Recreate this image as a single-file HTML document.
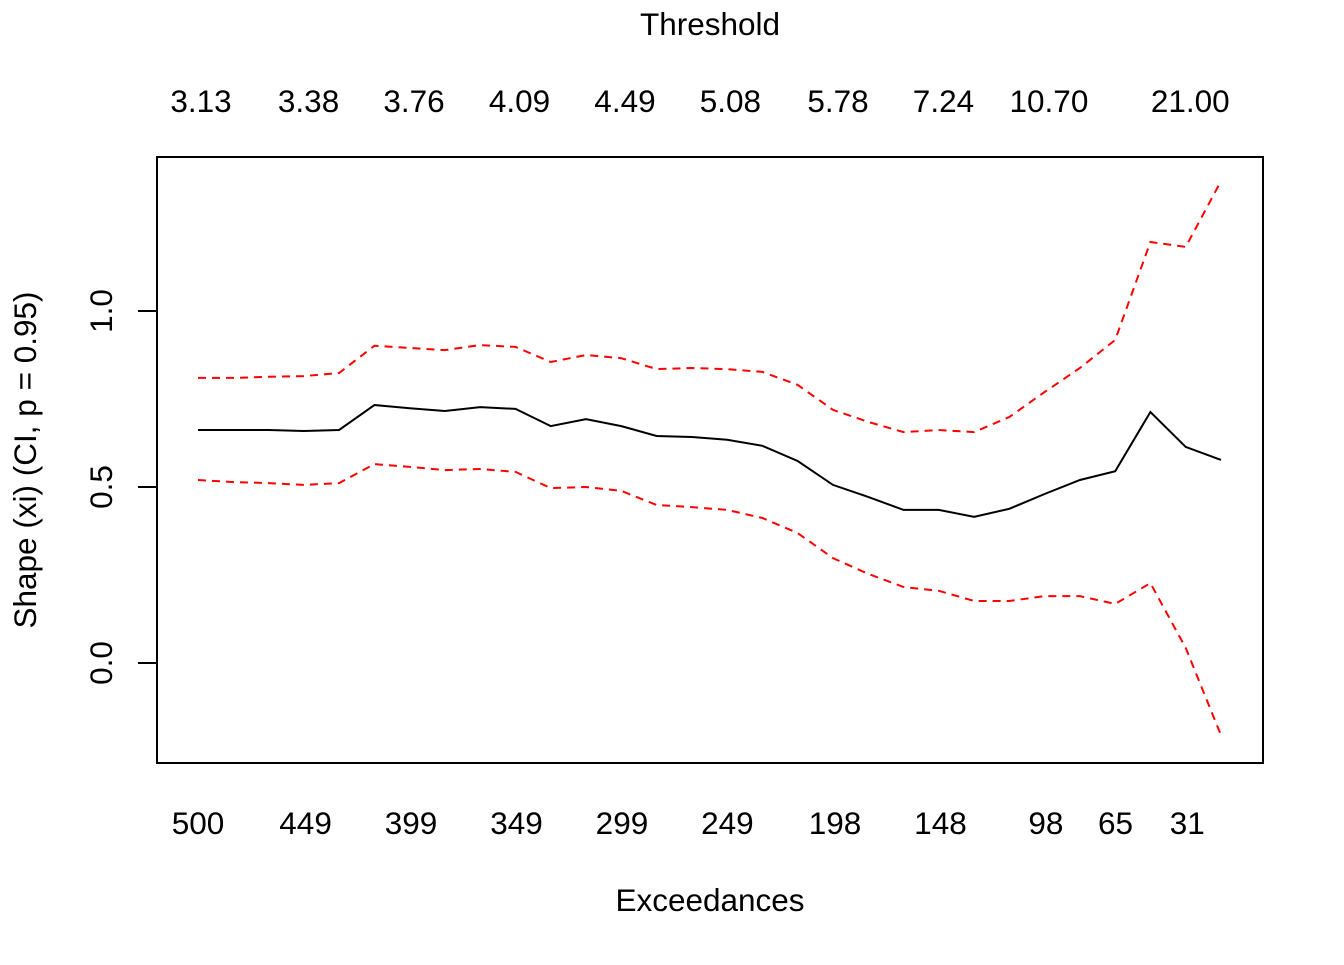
<!DOCTYPE html>
<html><head><meta charset="utf-8"><style>
html,body{margin:0;padding:0;background:#fff;}
svg text{font-family:"Liberation Sans",Arial,sans-serif;fill:#000;}
</style></head><body>
<svg id="chart" width="1344" height="960" viewBox="0 0 1344 960" xmlns="http://www.w3.org/2000/svg">
<rect x="0" y="0" width="1344" height="960" fill="#fff"/>
<g id="plot"></g>
</svg>
<script>
const exceedTicks = [500,449,399,349,299,249,198,148,98,65,31];
const thresholdLabels = ["3.13","3.38","3.76","4.09","4.49","5.08","5.78","7.24","10.70","21.00"];
const thresholdAt = [500,449,399,349,299,249,198,148,98,31];
const yTicks = [0.0,0.5,1.0];
const yTickLabels = ["0.0","0.5","1.0"];
const kMax = 500, kMin = 15, nPts = 30;
const shape = [0.662,0.662,0.662,0.659,0.662,0.733,0.724,0.716,0.727,0.722,0.673,0.693,0.673,0.645,0.642,0.634,0.617,0.574,0.506,0.472,0.435,0.435,0.415,0.438,0.480,0.520,0.545,0.713,0.614,0.577];
const upper = [0.810,0.810,0.813,0.815,0.824,0.901,0.895,0.889,0.903,0.898,0.855,0.875,0.866,0.835,0.838,0.835,0.827,0.790,0.719,0.685,0.656,0.662,0.656,0.699,0.770,0.838,0.918,1.196,1.182,1.369];
const lower = [0.520,0.514,0.511,0.506,0.511,0.565,0.557,0.548,0.551,0.543,0.497,0.500,0.489,0.449,0.443,0.435,0.412,0.369,0.298,0.253,0.216,0.205,0.176,0.176,0.190,0.190,0.168,0.227,0.043,-0.205];

const NS="http://www.w3.org/2000/svg";
const g=document.getElementById('plot');
const L=157,R=1263,T=157,B=763;
const FS=31.5;
function xScale(k){return 198+(kMax-k)*(1221-198)/(kMax-kMin);}
function yScale(v){return 663-v*352;}
function mk(tag,attrs){const e=document.createElementNS(NS,tag);for(const a in attrs)e.setAttribute(a,attrs[a]);g.appendChild(e);return e;}
function ptsK(i){return kMax-i*(kMax-kMin)/(nPts-1);}

const box=mk('rect',{x:L,y:T,width:R-L,height:B-T,fill:'none',stroke:'#000','stroke-width':2});



function series(arr,color,dash,name){
  const d=arr.map((v,i)=>(i?'L':'M')+xScale(ptsK(i)).toFixed(1)+','+yScale(v).toFixed(1)).join(' ');
  const p=mk('path',{d:d,fill:'none',stroke:color,'stroke-width':2});
  if(dash)p.setAttribute('stroke-dasharray',dash);
  
  
}
series(upper,'#ff0000','8,6','upper-ci-line');
series(lower,'#ff0000','8,6','lower-ci-line');
series(shape,'#000','','shape-estimate-line');

yTicks.forEach((v,i)=>{
  const y=yScale(v);
  const t=mk('line',{x1:138,x2:L,y1:y,y2:y,stroke:'#000','stroke-width':2});
  
  
  const tx=mk('text',{x:0,y:0,'font-size':FS,'text-anchor':'middle',transform:`translate(112,${y}) rotate(-90)`});
  tx.textContent=yTickLabels[i];
  
  
});
exceedTicks.forEach(k=>{
  const tx=mk('text',{x:xScale(k),y:834,'font-size':FS,'text-anchor':'middle'});
  tx.textContent=String(k);
  
  
});
thresholdLabels.forEach((s,i)=>{
  const tx=mk('text',{x:xScale(thresholdAt[i])+3,y:112,'font-size':FS,'text-anchor':'middle'});
  tx.textContent=s;
  
  
});
const t1=mk('text',{x:710,y:35,'font-size':FS,'text-anchor':'middle'});
t1.textContent='Threshold';


const t2=mk('text',{x:710,y:911,'font-size':FS,'text-anchor':'middle'});
t2.textContent='Exceedances';


const t3=mk('text',{x:0,y:0,'font-size':FS,'text-anchor':'middle',transform:'translate(36,460) rotate(-90)'});
t3.textContent='Shape (xi) (CI, p = 0.95)';


</script>
</body></html>
